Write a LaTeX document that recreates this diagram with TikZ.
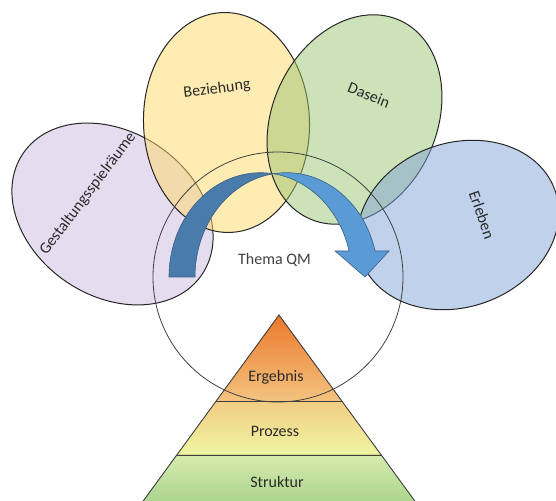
\documentclass[tikz,border=0pt]{standalone}
\usepackage{fontspec}
\setmainfont{Carlito}
\usetikzlibrary{shapes.geometric}

\definecolor{lila}{HTML}{CDB9E1}
\definecolor{gelb}{HTML}{FFD967}
\definecolor{gruen}{HTML}{99C571}
\definecolor{blau}{HTML}{81A3D7}
\definecolor{pfeilhell}{HTML}{5B9BD5}
\definecolor{pfeildunkel}{HTML}{497CAA}
\definecolor{pfeilrand}{HTML}{3A5F85}
\definecolor{schrift}{HTML}{2A2A2A}

\begin{document}
\begin{tikzpicture}[x=1pt, y=1pt,
    blase/.style={ellipse, draw=black!85, line width=1pt, fill opacity=0.5,
        minimum width=164pt, inner sep=0pt},
    lbl/.style={font=\fontsize{16}{19}\selectfont, text=schrift, inner sep=1pt},
    stufe/.style={draw=black!75, line width=0.9pt},
    pfeil/.style={draw=pfeilrand, line width=0.6pt}]
    \useasboundingbox (0,0) rectangle (556,500);
    \clip (0,0) rectangle (556,500);

    % die vier Blasen
    \node [blase, fill=lila, minimum height=216pt, rotate=56] (gest) at (112.5,286) {};
    \node [blase, fill=gelb, minimum height=220pt, minimum width=166pt, rotate=2] (bez) at (226.5,377.5) {};
    \node [blase, fill=gruen, minimum height=218pt, rotate=-25] (das) at (354.5,380.5) {};
    \node [blase, fill=blau, minimum height=206pt, rotate=-70] (erl) at (458,275) {};

    % Pyramide
    \coordinate (spitze) at (279,185);
    \coordinate (e1) at (215.7,98.3);
    \coordinate (e2) at (342.3,98.3);
    \coordinate (p1) at (176.8,45);
    \coordinate (p2) at (381.2,45);
    \coordinate (s1) at (136.6,-10);
    \coordinate (s2) at (421.4,-10);
    \fill [top color={rgb,255:red,236;green,120;blue,44},
        bottom color={rgb,255:red,243;green,196;blue,128}] (spitze) -- (e2) -- (e1) -- cycle;
    \fill [top color={rgb,255:red,242;green,205;blue,132},
        bottom color={rgb,255:red,238;green,246;blue,162}] (e1) -- (e2) -- (p2) -- (p1) -- cycle;
    \fill [top color={rgb,255:red,214;green,235;blue,174},
        bottom color={rgb,255:red,165;green,208;blue,136}] (p1) -- (p2) -- (s2) -- (s1) -- cycle;
    \draw [stufe] (s1) -- (spitze) -- (s2);
    \draw [stufe] (e1) -- (e2);
    \draw [stufe] (p1) -- (p2);

    % Kreis
    \node [circle, draw=black!75, line width=0.8pt, minimum size=250pt, inner sep=0pt] (qm) at (278,223) {};

    % gebogener Pfeil
    \coordinate (fussa) at (169,223);
    \coordinate (fussi) at (195,223);
    \coordinate (kopf) at (365,223);
    \coordinate (kl) at (335.1,249);
    \coordinate (ki) at (349.1,249);
    \coordinate (kr) at (389.1,249);
    \fill [pfeildunkel, pfeil] (fussa) arc [start angle=180, end angle=81.83, x radius=91.5, y radius=104.3]
        arc [start angle=98.17, end angle=180, x radius=91.5, y radius=104.3] -- (fussi) -- cycle;
    \fill [pfeilhell, pfeil] (kopf) -- (kl) -- (ki)
        arc [start angle=14.43, end angle=81.83, x radius=91.5, y radius=104.3]
        arc [start angle=98.17, end angle=14.43, x radius=91.5, y radius=104.3] -- (kr) -- cycle;

    % Beschriftung
    \node [lbl, rotate=53] (tgest) at (88,306) {Gestaltungsspielräume};
    \node [lbl, rotate=7] (tbez) at (217,411) {Beziehung};
    \node [lbl, rotate=-22] (tdas) at (369,405) {Dasein};
    \node [lbl, rotate=-71] (terl) at (482,285) {Erleben};
    \node [lbl, text=black!75] (tqm) at (274.5,240) {Thema QM};
    \node [lbl] (terg) at (276,123) {Ergebnis};
    \node [lbl] (tproz) at (275,69) {Prozess};
    \node [lbl] (tstr) at (277,18) {Struktur};
\end{tikzpicture}
\end{document}
